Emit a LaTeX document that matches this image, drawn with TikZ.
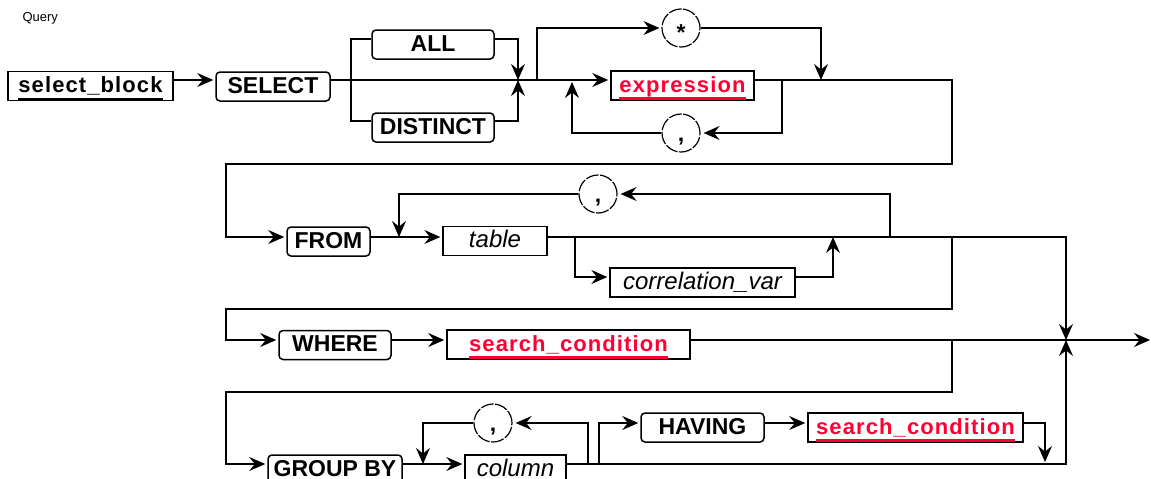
\documentclass[tikz,border=0pt]{standalone}
\usepackage{fontspec}
\setmainfont{Liberation Sans}
\newfontfamily\idfam[LetterSpace=5]{Liberation Sans}
\usetikzlibrary{arrows.meta}
\definecolor{idred}{RGB}{255,0,51}
\newcommand\kwfont{\fontsize{23pt}{23pt}\selectfont\bfseries}
\newcommand\idfont{\idfam\fontsize{22pt}{22pt}\selectfont\bfseries}
\newcommand\itfont{\fontsize{24pt}{24pt}\selectfont\itshape}
% underlined identifier: rule lying on the foot of the box, in the given colour
\newcommand\idul[2]{\setbox0=\hbox{#2}\rlap{\color{#1}\rule[-8pt]{\wd0}{2.6pt}}\box0}
\tikzset{synarrow/.tip={Stealth[length=16pt,width=14pt,inset=5.5pt]}}
\begin{document}
\begin{tikzpicture}[x=1pt,y=-1pt,
  conn/.style={draw=black,line width=1.4pt},
  arr/.style={-synarrow},
  box/.style={draw,line width=1.5pt,inner sep=0pt,minimum height=29pt,
    text height=16pt,text depth=3pt},
  kw/.style={box,rounded corners=4pt,font=\kwfont},
  nt/.style={box,font=\idfont},
  itb/.style={box,line width=1.3pt,font=\itfont},
  ring/.style={draw,circle,line width=1.2pt,minimum size=38pt,inner sep=0pt,
    font=\kwfont,dash pattern=on 13pt off 1.6pt}]
\useasboundingbox (0,0) rectangle (1151,479);
\clip (0,0) rectangle (1151,479);

% row levels
\coordinate (rs) at (0,28);
\coordinate (ra) at (0,39);
\coordinate (r1) at (0,80);
\coordinate (rd) at (0,121);
\coordinate (rc1) at (0,133);
\coordinate (w1) at (0,164);
\coordinate (rc2) at (0,194);
\coordinate (r2) at (0,237);
\coordinate (rcv) at (0,277);
\coordinate (w2) at (0,309);
\coordinate (r3) at (0,340);
\coordinate (w3) at (0,392);
\coordinate (rh) at (0,423);
\coordinate (r4) at (0,464);
% branch columns
\coordinate (xf) at (226,0);
\coordinate (xa) at (351,0);
\coordinate (xt) at (399,0);
\coordinate (xg) at (423,0);
\coordinate (xm) at (518,0);
\coordinate (xs) at (537,0);
\coordinate (xl) at (572,0);
\coordinate (xcv) at (575,0);
\coordinate (xg2) at (588,0);
\coordinate (xh) at (599,0);
\coordinate (xc) at (782,0);
\coordinate (xd) at (821,0);
\coordinate (xcu) at (833,0);
\coordinate (xcl) at (890,0);
\coordinate (xw) at (952,0);
\coordinate (xh2) at (1045,0);
\coordinate (xm2) at (1066,0);
\coordinate (xe) at (1150,0);

\node[anchor=west,font=\fontsize{13pt}{13pt}\selectfont] (title) at (19,18) {Query};

% boxes
\node[nt,minimum width=165pt] (sb) at (90.5,86) {\idul{black}{select\_block}};
\node[kw,minimum width=114pt] (sel) at (273,86.5) {SELECT};
\node[kw,minimum width=122pt] (all) at (433,44.5) {ALL};
\node[kw,minimum width=122pt] (dist) at (433,127.5) {DISTINCT};
\node[ring,text height=24pt,text depth=0pt] (star) at (681,28) {*};
\node[nt,minimum width=143pt,text=idred] (expr) at (682.5,85.5) {\idul{idred}{expression}};
\node[ring,text height=16pt,text depth=0pt] (c1) at (681,133) {,};

\node[kw,minimum width=83pt] (from) at (328.5,241.5) {FROM};
\node[itb,minimum width=104pt] (table) at (495,241) {table};
\node[itb,minimum width=185pt] (corr) at (702.5,282.5) {correlation\_var};
\node[ring,text height=16pt,text depth=0pt] (c2) at (598,194) {,};

\node[kw,minimum width=112pt] (where) at (335,345) {WHERE};
\node[nt,minimum width=243pt,text=idred] (sc1) at (568.5,344.5) {\idul{idred}{search\_condition}};

\node[kw,minimum width=134pt] (gb) at (335,469.5) {GROUP BY};
\node[itb,minimum width=101pt] (col) at (515.5,469.5) {column};
\node[ring,text height=16pt,text depth=0pt] (c3) at (493,423) {,};
\node[kw,minimum width=123pt] (hav) at (702.5,427.5) {HAVING};
\node[nt,minimum width=215pt,text=idred] (sc2) at (915.5,427.5) {\idul{idred}{search\_condition}};

% SELECT line
\draw[conn,arr,shorten >=2pt] (sb.east|-r1) -- (sel.west|-r1);
\draw[conn,arr,shorten >=2pt] (sel.east|-r1) -- (expr.west|-r1);
\draw[conn] (xa|-r1) |- (all.west|-ra);
\draw[conn] (xa|-r1) |- (dist.west|-rd);
\draw[conn,arr] (all.east|-ra) -| (xm|-r1);
\draw[conn,arr] (dist.east|-rd) -| (xm|-r1);
\draw[conn,arr,shorten >=2pt] (xs|-r1) |- (star.west);
\draw[conn,arr] (star.east) -| (xd|-r1);
\draw[conn,arr,shorten >=3pt] (xc|-r1) |- (c1.east);
\draw[conn,arr,shorten >=2pt] (c1.west) -| (xl|-r1);
\draw[conn,arr,shorten >=2pt] (expr.east|-r1) -| (xw|-w1) -| (xf|-r2) -- (from.west|-r2);

% FROM line
\draw[conn,arr,shorten >=2pt] (from.east|-r2) -- (table.west|-r2);
\draw[conn,arr] (table.east|-r2) -| (xm2|-r3);
\draw[conn,arr,shorten >=2pt] (xcv|-r2) |- (corr.west|-rcv);
\draw[conn,arr] (corr.east|-rcv) -| (xcu|-r2);
\draw[conn,arr,shorten >=3pt] (xcl|-r2) |- (c2.east);
\draw[conn,arr] (c2.west) -| (xt|-r2);
\draw[conn,arr,shorten >=2pt] (xw|-r2) |- (xf|-w2) |- (where.west|-r3);

% WHERE line
\draw[conn,arr,shorten >=2pt] (where.east|-r3) -- (sc1.west|-r3);
\draw[conn,arr] (sc1.east|-r3) -- (xe|-r3);
\draw[conn,arr,shorten >=2pt] (xw|-r3) |- (xf|-w3) |- (gb.west|-r4);

% GROUP BY line
\draw[conn,arr,shorten >=2pt] (gb.east|-r4) -- (col.west|-r4);
\draw[conn,arr] (col.east|-r4) -| (xm2|-r3);
\draw[conn,arr,shorten >=3pt] (xg2|-r4) |- (c3.east);
\draw[conn,arr] (c3.west) -| (xg|-r4);
\draw[conn,arr,shorten >=2pt] (xh|-r4) |- (hav.west|-rh);
\draw[conn,arr,shorten >=2pt] (hav.east|-rh) -- (sc2.west|-rh);
\draw[conn,arr,shorten >=2pt] (sc2.east|-rh) -| (xh2|-r4);
\end{tikzpicture}
\end{document}
